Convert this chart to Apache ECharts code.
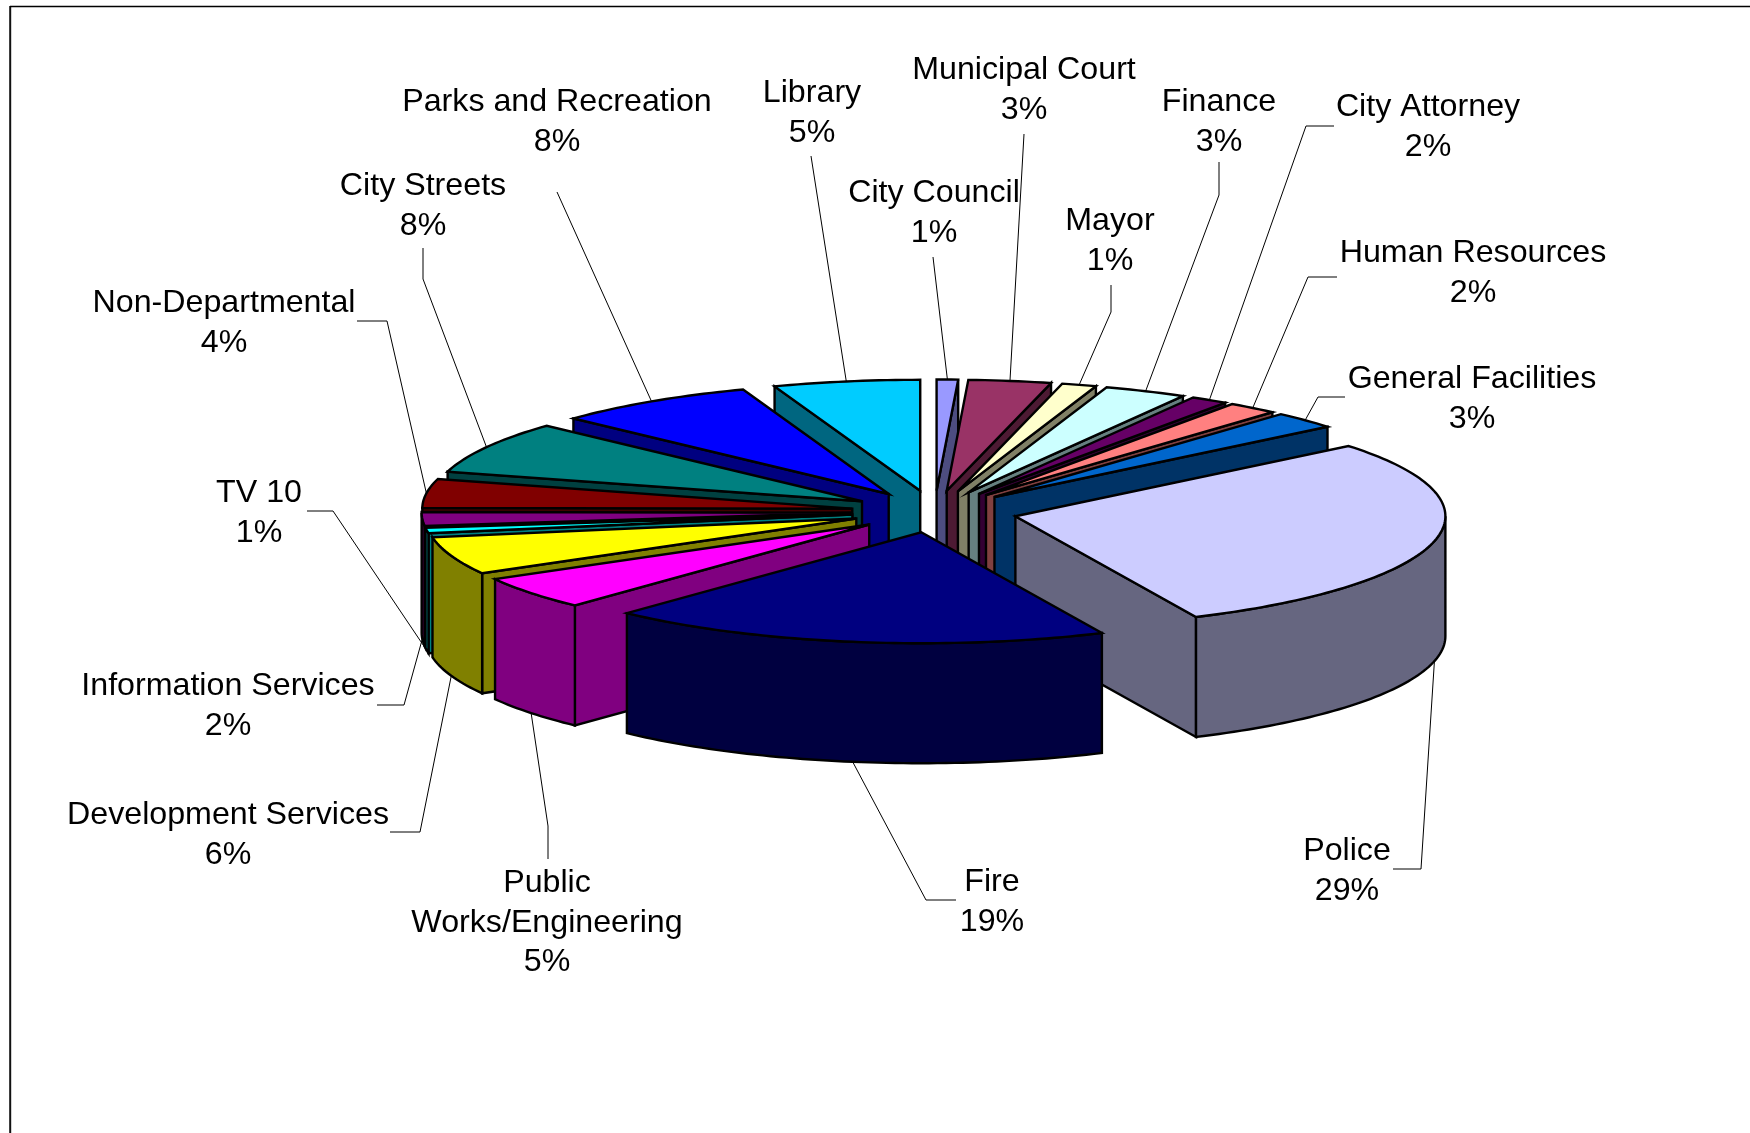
<!DOCTYPE html>
<html>
<head>
<meta charset="utf-8">
<title>Budget by department</title>
<script src="https://cdn.jsdelivr.net/npm/echarts@6/dist/echarts.min.js"></script>
<style>
  html, body { margin: 0; padding: 0; background: #fff; }
  #chart { width: 1750px; height: 1133px; }
</style>
</head>
<body>
<div id="chart"></div>
<script>
// data, clockwise from 12 o'clock
const names = ['City Council', 'Municipal Court', 'Mayor', 'Finance', 'City Attorney', 'Human Resources',
  'General Facilities', 'Police', 'Fire', 'Public\nWorks/Engineering', 'Development Services', 'TV 10',
  'Information Services', 'Non-Departmental', 'City Streets', 'Parks and Recreation', 'Library'];
const values = [0.8, 3.1, 1.3, 3.1, 1.4, 1.9, 2.5, 29, 18.9, 4.8, 5.5, 0.8, 2, 4.2, 7.6, 7.6, 5.5];
const percentLabels = ['1%', '3%', '1%', '3%', '2%', '2%', '3%', '29%', '19%', '5%', '6%', '1%', '2%', '4%', '8%', '8%', '5%'];
const colors = ['#9999FF', '#993366', '#FFFFCC', '#CCFFFF', '#660066', '#FF8080', '#0066CC', '#CCCCFF', '#000080',
  '#FF00FF', '#FFFF00', '#00FFFF', '#800080', '#800000', '#008080', '#0000FF', '#00CCFF'];

// label layout: [center x, center y, ...leader points before the slice]
const labelLayout = [
  [934, 213, [933, 257]],
  [1024, 90, [1024, 134]],
  [1110, 241, [1111, 285], [1111, 312]],
  [1219, 122, [1219, 162], [1219, 195]],
  [1428, 127, [1334, 126], [1306, 126]],
  [1473, 273, [1337, 277], [1308, 277]],
  [1472, 399, [1345, 397], [1318, 397]],
  [1347, 871, [1393, 869], [1421, 869]],
  [992, 902, [956, 900], [926, 900]],
  [547, 923, [548, 859], [548, 826]],
  [228, 835, [390, 832], [420, 832]],
  [259, 513, [307, 511], [333, 511]],
  [228, 706, [377, 705], [404, 705]],
  [224, 323, [357, 321], [387, 321]],
  [423, 206, [423, 248], [423, 279]],
  [557, 122, [557, 192]],
  [812, 113, [811, 156]]
];

const CX = 934.5, CY = 511.5;
const RX = 430, RY = 111;     // top ellipse
const EX = 83, EY = 21;       // explode offset
const DEPTH = 120;            // wall height
const FONT = '32.2px "Liberation Sans", Arial, sans-serif';

const total = values.reduce((a, b) => a + b, 0);
let acc = 0;
const slices = values.map((v, i) => {
  const a = acc / total * Math.PI * 2;
  acc += v;
  const b = acc / total * Math.PI * 2;
  const mid = (a + b) / 2;
  return { i, a, b, mid, ax: CX + EX * Math.sin(mid), ay: CY - EY * Math.cos(mid) };
});

// back slices are painted first
const paintOrder = slices.slice().sort((p, q) => Math.cos(q.mid) - Math.cos(p.mid)).map(s => s.i);

function darken(hex) {
  const n = parseInt(hex.slice(1), 16);
  const c = [(n >> 16) & 255, (n >> 8) & 255, n & 255].map(x => Math.round(x / 2));
  return 'rgb(' + c.join(',') + ')';
}

function rim(s, t, down) {
  return [s.ax + RX * Math.sin(t), s.ay - RY * Math.cos(t) + (down ? DEPTH : 0)];
}

function arc(s, from, to, down) {
  const pts = [];
  const n = Math.max(2, Math.ceil((to - from) / 0.02));
  for (let k = 0; k <= n; k++) pts.push(rim(s, from + (to - from) * k / n, down));
  return pts;
}

function face(points, fill) {
  return {
    type: 'polygon',
    shape: { points },
    style: { fill, stroke: '#000', lineWidth: 2.4, lineJoin: 'miter' }
  };
}

function renderSlice(params, api) {
  const s = slices[api.value(0)];
  const wall = darken(colors[s.i]);
  const children = [];
  const apex = [s.ax, s.ay], apexLow = [s.ax, s.ay + DEPTH];

  // radial wall that faces the viewer
  if (Math.sin(s.a) < 0) children.push(face([apex, rim(s, s.a), rim(s, s.a, true), apexLow], wall));
  if (Math.sin(s.b) > 0) children.push(face([apex, rim(s, s.b), rim(s, s.b, true), apexLow], wall));

  // outer wall, only the front half of the ellipse
  const from = Math.max(s.a, Math.PI / 2), to = Math.min(s.b, Math.PI * 1.5);
  if (to > from) children.push(face(arc(s, from, to, false).concat(arc(s, from, to, true).reverse()), wall));

  children.push(face([apex].concat(arc(s, s.a, s.b, false)), colors[s.i]));
  return { type: 'group', children };
}

function renderLabel(params, api) {
  const i = api.value(0);
  const s = slices[i];
  const lay = labelLayout[i];
  const front = Math.cos(s.mid) < 0;
  const end = rim(s, s.mid, front);
  return {
    type: 'group',
    children: [
      {
        type: 'polyline',
        shape: { points: lay.slice(2).concat([end]) },
        style: { fill: null, stroke: '#000', lineWidth: 1 }
      },
      {
        type: 'text',
        style: {
          x: lay[0], y: lay[1],
          text: names[i] + '\n' + percentLabels[i],
          font: FONT, lineHeight: 39.6,
          align: 'center', verticalAlign: 'middle', fill: '#000'
        }
      }
    ]
  };
}

const chart = echarts.init(document.getElementById('chart'), null, { renderer: 'canvas' });
chart.setOption({
  animation: false,
  backgroundColor: '#fff',
  graphic: [
    { type: 'line', shape: { x1: 10.2, y1: 6, x2: 10.2, y2: 1133 }, style: { stroke: '#111', lineWidth: 2 } },
    { type: 'line', shape: { x1: 10, y1: 6.5, x2: 1750, y2: 6.5 }, style: { stroke: '#000', lineWidth: 1.5 } }
  ],
  series: [
    {
      type: 'custom',
      coordinateSystem: 'none',
      data: paintOrder.map(i => [i, values[i]]),
      renderItem: renderSlice,
      silent: true,
      z: 2
    },
    {
      type: 'custom',
      coordinateSystem: 'none',
      data: values.map((v, i) => [i, v]),
      renderItem: renderLabel,
      silent: true,
      z: 1
    }
  ]
});
</script>
</body>
</html>
